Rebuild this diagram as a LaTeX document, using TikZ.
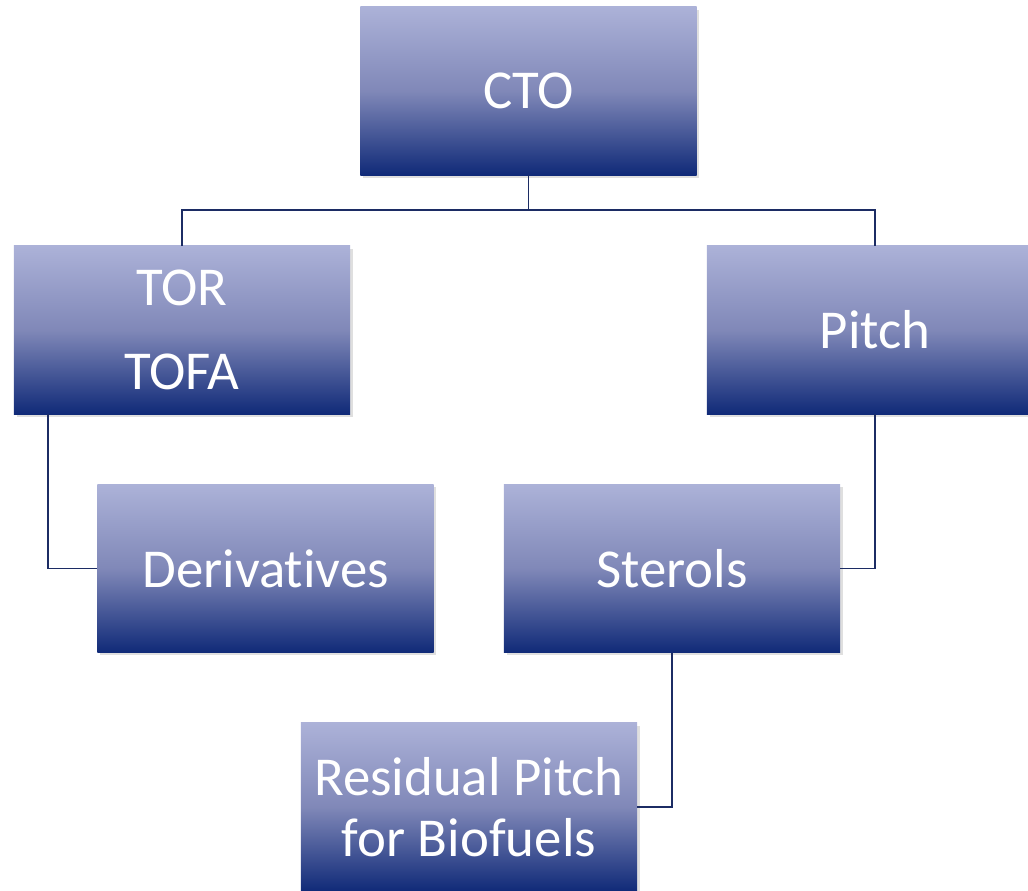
\documentclass[tikz,border=0pt]{standalone}
\usepackage{fontspec}
\setmainfont{Carlito}[Ligatures=NoCommon]
\usetikzlibrary{shadows}
\definecolor{boxtop}{RGB}{172,178,216}
\definecolor{boxmid}{RGB}{128,136,184}
\definecolor{boxbot}{RGB}{16,42,120}
\definecolor{wire}{RGB}{28,44,100}
\begin{document}
\begin{tikzpicture}[x=0.025cm,y=-0.025cm]
    \tikzstyle{unit}=[rectangle,minimum width=8.4cm,minimum height=4.2cm,top color=boxtop,bottom color=boxbot,middle color=boxmid,text=white,align=center,font=\fontsize{39}{43}\selectfont,drop shadow={opacity=0.25,shadow xshift=2pt,shadow yshift=-2pt}]
    \tikzstyle{wire}=[draw=wire,line width=1.3pt]

    \clip (0,0) rectangle (1028,891);

    \node[unit](cto) at (528.5,91){CTO};
    \node[unit](tor) at (182,330){TOR\\[0.6cm]TOFA};
    \node[unit](pitch) at (875,330){Pitch};
    \node[unit](deriv) at (265.5,568.5){Derivatives};
    \node[unit](sterols) at (672,568.5){Sterols};
    \node[unit](resid) at (469,807){Residual Pitch\\for Biofuels};

    \coordinate (bus) at (528.5,210);
    \draw[wire] (cto) -- (bus) -| (tor);
    \draw[wire] (bus) -| (pitch);
    \draw[wire] ([xshift=0.85cm]tor.south west) |- (deriv.west);
    \draw[wire] (pitch.south) |- (sterols.east);
    \draw[wire] (sterols.south) |- (resid.east);
  \end{tikzpicture}
\end{document}
